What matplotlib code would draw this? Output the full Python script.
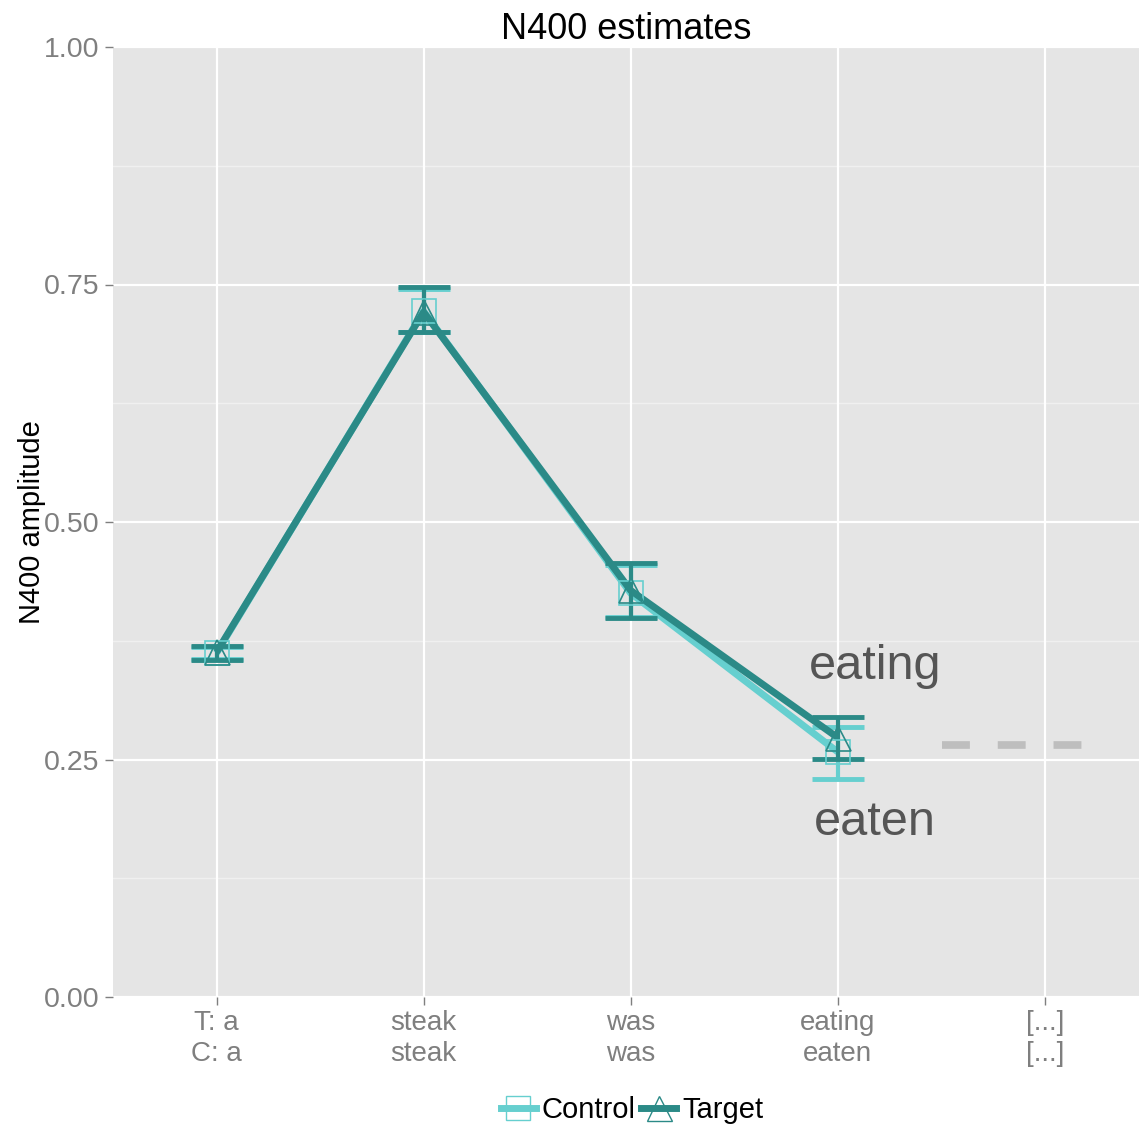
import numpy as np
import matplotlib.pyplot as plt
from matplotlib.lines import Line2D

# --- data ---
words = ["T: a\nC: a", "steak\nsteak", "was\nwas", "eating\neaten", "[...]\n[...]"]
control_mean = [0.362, 0.722, 0.425, 0.258]
control_lo = [0.356, 0.700, 0.400, 0.229]
control_hi = [0.368, 0.745, 0.455, 0.284]
target_mean = [0.363, 0.721, 0.428, 0.273]
target_lo = [0.355, 0.700, 0.399, 0.251]
target_hi = [0.369, 0.747, 0.457, 0.295]
dash_level = 0.265
yticks = [0.0, 0.25, 0.5, 0.75, 1.0]

C_CTRL = "#66CFCF"
C_TARG = "#2B8A87"

plt.rcParams['font.family'] = ['Liberation Sans', 'DejaVu Sans']

fig = plt.figure(figsize=(11.39, 11.27), dpi=100)
ax = fig.add_axes([113/1139, 1-997/1127, (1139-113)/1139, (997-47)/1127])
ax.set_facecolor("#E5E5E5")
for s in ax.spines.values():
    s.set_visible(False)

x = np.arange(1, len(control_mean)+1)

# grid
for yv in np.arange(0.125, 1.0, 0.25):
    ax.axhline(yv, color="#F0F0F0", lw=1, zorder=0)
for yv in yticks:
    ax.axhline(yv, color="white", lw=1.6, zorder=0)
for xv in range(1, len(words)+1):
    ax.axvline(xv, color="white", lw=1.6, zorder=0)

def draw(mean, lo, hi, col, marker, ms):
    ax.plot(x, mean, color=col, lw=5, zorder=3, solid_capstyle="butt")
    ax.errorbar(x, mean, yerr=[np.array(mean)-np.array(lo), np.array(hi)-np.array(mean)],
                fmt="none", ecolor=col, elinewidth=3, capsize=19, capthick=3.5, zorder=3)
    ax.plot(x, mean, ls="none", marker=marker, ms=ms, mfc="none", mec=col, mew=1.2, zorder=4)

draw(control_mean, control_lo, control_hi, C_CTRL, "s", 17)
draw(target_mean, target_lo, target_hi, C_TARG, "^", 18)

ax.plot([4.505, 5.18], [dash_level, dash_level], color="#BEBEBE", lw=5.5,
        dashes=(3.65, 3.65), solid_capstyle="butt", zorder=2)

ax.text(4.18, 0.348, "eating", fontsize=35, color="#555555", ha="center", va="center")
ax.text(4.18, 0.184, "eaten", fontsize=35, color="#555555", ha="center", va="center")

ax.set_xlim(0.5, 5.455)
ax.set_ylim(0, 1)
ax.set_xticks(range(1, len(words)+1))
ax.set_xticklabels(words, fontsize=20, color="#7F7F7F", linespacing=1.25)
ax.set_yticks(yticks)
ax.set_yticklabels(["%.2f" % v for v in yticks], fontsize=20.5, color="#7F7F7F")
ax.tick_params(axis="both", length=6, color="#7F7F7F", width=1)
ax.set_ylabel("N400 amplitude", fontsize=21, color="black", labelpad=-1)
ax.set_title("N400 estimates", fontsize=26, pad=0)

handles = [
    Line2D([], [], color=C_CTRL, lw=5, marker="s", ms=17, mfc="none", mec=C_CTRL),
    Line2D([], [], color=C_TARG, lw=5, marker="^", ms=18, mfc="none", mec=C_TARG),
]
fig.legend(handles, ["Control", "Target"], loc="center", bbox_to_anchor=(0.555, 1-1110/1127),
           ncol=2, frameon=False, fontsize=21, handlelength=1.2, handletextpad=0.2,
           columnspacing=0.2)

fig.savefig("out.png", dpi=100)
